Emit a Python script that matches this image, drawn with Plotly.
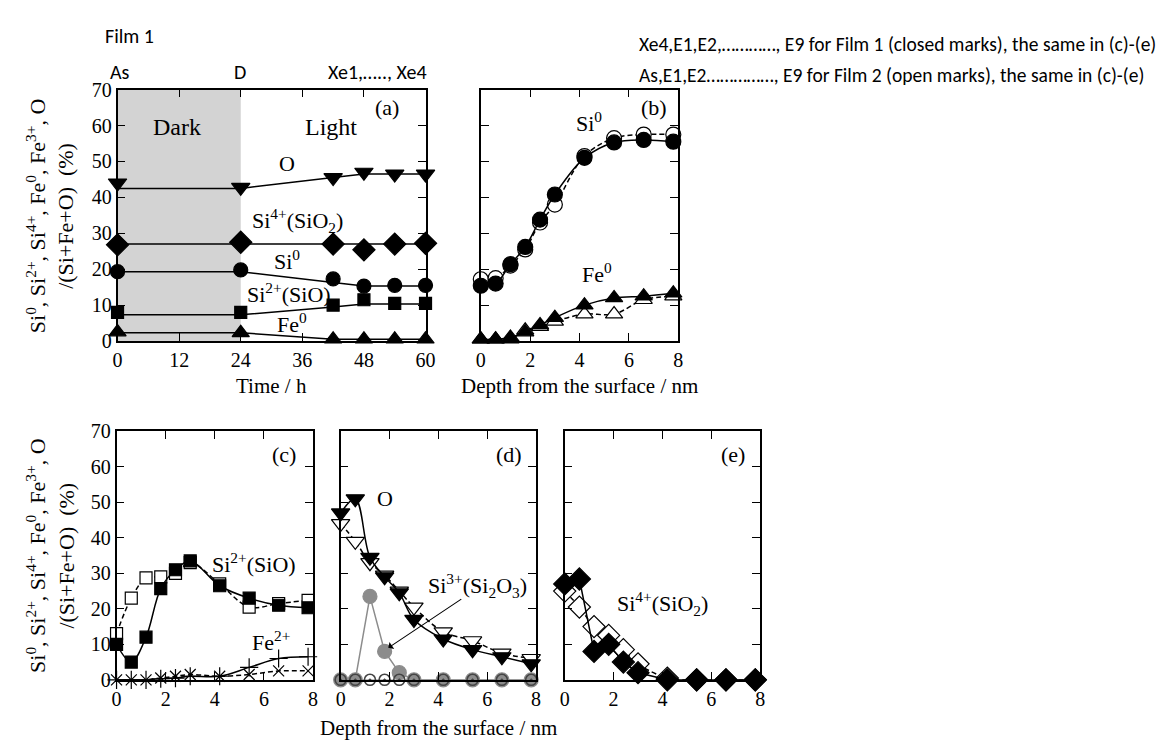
import plotly.graph_objects as go

# ---------------- data ----------------
# (a) composition versus time (Film 1)
time_h = [0, 24, 42, 48, 54, 60]
a_o = [44, 42.8, 45.5, 47, 46.5, 46.5]
a_si4 = [26.8, 27.5, 27, 25.4, 27, 27.2]
a_si0 = [19.3, 19.8, 17.3, 15.3, 15.5, 15.5]
a_si2 = [8, 8, 10, 11.5, 10.5, 10.5]
a_fe0 = [2.5, 2.3, 0.5, 0.5, 0.5, 0.5]
# trend lines in (a)
a_o_line = [42.5, 42.5, 45.5, 46.5, 46.5, 46.5]
a_si4_line = [27, 27, 27, 27, 27, 27]
a_si0_line = [19.3, 19.3, 16.3, 15.3, 15.3, 15.3]
a_si2_line = [7.3, 7.3, 9.5, 10.3, 10.3, 10.3]
a_fe0_line = [2.3, 2.3, 0.5, 0.5, 0.5, 0.5]

# depth profiles (b)-(e): Film 1 = closed marks, Film 2 = open marks
depth_nm = [0, 0.6, 1.2, 1.8, 2.4, 3.0, 4.2, 5.4, 6.6, 7.8]
b_si0_f1 = [15.4, 16, 21.4, 26.2, 33.8, 40.8, 51, 55.3, 56, 55.5]
b_si0_f2 = [17.2, 17.5, 21, 25.5, 33, 38, 51.5, 56.5, 57.5, 57.5]
b_fe0_f1 = [0.5, 0.5, 1, 2.5, 4.5, 6.5, 10, 12, 12.5, 13.3]
b_fe0_f2 = [0.5, 0.5, 0.5, 3, 4, 5.5, 7.5, 7.5, 11.5, 12.5]

c_si2_f1 = [10, 5, 12, 25.7, 31, 33.5, 26.5, 23, 21, 20.3]
c_si2_f2 = [13, 23, 28.7, 29, 30, 33, 27, 20.5, 21.5, 22.4]
c_fe2_f1 = [0, 0, 0, 0.3, 0.5, 1, 1, 3.5, 6, 6.5]
c_fe2_f2 = [0, 0, 0, 0.5, 1, 1.5, 1, 1.5, 2.5, 2.5]

d_o_f1 = [47, 51, 34.5, 29, 24.5, 17, 11.5, 8.5, 6.5, 4.5]
d_o_f2 = [44, 39, 33, 29.5, 25, 20.5, 13.5, 11, 7.5, 6]
d_si3_f1 = [0, 0, 23.5, 8, 2, 0, 0, 0, 0, 0]
d_si3_f2 = [0, 0, 0, 0, 0, 0, 0, 0, 0, 0]

e_si4_f1 = [27, 28.4, 8, 10, 5, 2, 0, 0, 0, 0]
e_si4_f2 = [25, 20.5, 15, 12.5, 8.5, 4.5, 0.5, 0, 0, 0]

# ---------------- layout helpers ----------------
W, H = 1168, 751
SERIF = "Liberation Serif"
SANS = "Carlito, Lato, sans-serif"
DASH = "5px,3px"


def px(x):
    return x / W


def py(y):
    return 1 - y / H


def axis_style(rng, dtick, domain, anchor, labels=True):
    return dict(
        domain=domain, anchor=anchor, range=rng, dtick=dtick, tick0=0,
        showline=True, linecolor="black", linewidth=1.5, mirror="ticks",
        ticks="inside", ticklen=8, tickwidth=1.3, tickcolor="black",
        showgrid=False, zeroline=False, showticklabels=labels,
        tickfont=dict(family=SERIF, size=20, color="black"),
    )


fig = go.Figure()


def add(xs, ys, ax, symbol=None, fill="black", size=13, dash="solid",
        shape="linear", lcolor="black", mcolor="black", mode="lines+markers",
        lw=1.5, mlw=1.2):
    fig.add_trace(go.Scatter(
        x=xs, y=ys, xaxis="x" + ax, yaxis="y" + ax, mode=mode,
        line=dict(color=lcolor, width=lw, dash=dash, shape=shape),
        marker=dict(symbol=symbol or "circle", size=size, color=fill,
                    line=dict(color=mcolor, width=mlw)),
        cliponaxis=False, showlegend=False, hoverinfo="skip",
    ))


# (a) -- trend lines then marks
for line in (a_o_line, a_si4_line, a_si0_line, a_si2_line, a_fe0_line):
    add(time_h, line, "", mode="lines")
add(time_h, a_o, "", "triangle-down", size=16, mode="markers")
add(time_h, a_si4, "", "diamond", size=17, mode="markers")
add(time_h, a_si0, "", "circle", size=14, mode="markers")
add(time_h, a_si2, "", "square", size=12, mode="markers")
add(time_h, a_fe0, "", "triangle-up", size=15, mode="markers")

# (b)
add(depth_nm, b_si0_f2, "2", "circle", fill="white", size=15, dash=DASH, shape="spline")
add(depth_nm, b_si0_f1, "2", "circle", size=15, shape="spline")
add(depth_nm, b_fe0_f2, "2", "triangle-up", fill="white", size=15, dash=DASH, shape="spline")
add(depth_nm, b_fe0_f1, "2", "triangle-up", size=15, shape="spline")

# (c)
add(depth_nm, c_si2_f2, "3", "square", fill="white", size=12, dash=DASH, shape="spline")
add(depth_nm, c_si2_f1, "3", "square", size=12, shape="spline")
add(depth_nm, c_fe2_f2, "3", "x-thin-open", size=11, dash=DASH, shape="spline")
add(depth_nm, c_fe2_f1, "3", "cross-thin-open", size=13, shape="spline")

# (d)
add(depth_nm, d_o_f2, "4", "triangle-down", fill="white", size=16, dash=DASH, shape="spline")
add(depth_nm, d_o_f1, "4", "triangle-down", size=16, shape="spline")
add(depth_nm, d_si3_f1, "4", "circle", fill="#8c8c8c", size=14,
    lcolor="#8c8c8c", mcolor="#8c8c8c")
add(depth_nm, d_si3_f2, "4", "circle-open-dot", fill="#444444", size=11,
    lcolor="#8c8c8c", mcolor="#444444", lw=1, mlw=1.6)

# (e)
add(depth_nm, e_si4_f2, "5", "diamond", fill="white", size=17, dash=DASH, shape="spline")
add(depth_nm, e_si4_f1, "5", "diamond", size=17)

# ---------------- axes ----------------
top_dom = [py(340), py(81)]
bot_dom = [py(689), py(433)]
fig.update_layout(
    width=W, height=H, margin=dict(l=0, r=0, t=0, b=0),
    plot_bgcolor="rgba(0,0,0,0)", paper_bgcolor="white",
    xaxis=axis_style([0, 60], 12, [px(114), px(426)], "y"),
    yaxis=axis_style([0, 70], 10, top_dom, "x"),
    xaxis2=axis_style([0, 8], 2, [px(482), px(682)], "y2"),
    yaxis2=axis_style([0, 70], 10, top_dom, "x2", labels=False),
    xaxis3=axis_style([0, 8], 2, [px(113), px(312)], "y3"),
    yaxis3=axis_style([0, 70], 10, bot_dom, "x3"),
    xaxis4=axis_style([0, 8], 2, [px(340), px(538)], "y4"),
    yaxis4=axis_style([0, 70], 10, bot_dom, "x4", labels=False),
    xaxis5=axis_style([0, 8], 2, [px(567), px(765)], "y5"),
    yaxis5=axis_style([0, 70], 10, bot_dom, "x5", labels=False),
)

# dark period shading in (a)
fig.add_shape(type="rect", xref="x", yref="y domain", x0=0, x1=24, y0=0, y1=1,
              fillcolor="#d3d3d3", line=dict(width=0), layer="below")

ann = []


def txt(x, y, text, xref, yref, size=22, family=SERIF, xanchor="center", **kw):
    ann.append(dict(x=x, y=y, xref=xref, yref=yref, text=text, showarrow=False,
                    xanchor=xanchor, yanchor="middle",
                    font=dict(family=family, size=size, color="black"), **kw))


# labels inside (a)
txt(11.5, 59.5, "Dark", "x", "y", size=24)
txt(41.5, 59.5, "Light", "x", "y", size=24)
txt(33, 49.5, "O", "x", "y")
txt(35, 33.5, "Si<sup>4+</sup>(SiO<sub>2</sub>)", "x", "y")
txt(33, 22.5, "Si<sup>0</sup>", "x", "y")
txt(33.5, 13.5, "Si<sup>2+</sup>(SiO)", "x", "y")
txt(34, 5, "Fe<sup>0</sup>", "x", "y")
txt(52.5, 65, "(a)", "x", "y")
# labels inside (b)
txt(4.4, 61, "Si<sup>0</sup>", "x2", "y2")
txt(4.7, 19, "Fe<sup>0</sup>", "x2", "y2")
txt(7.0, 65, "(b)", "x2", "y2")
# labels inside (c)
txt(5.6, 33, "Si<sup>2+</sup>(SiO)", "x3", "y3")
txt(6.3, 11, "Fe<sup>2+</sup>", "x3", "y3")
txt(6.8, 63.5, "(c)", "x3", "y3")
# labels inside (d)
txt(1.8, 51, "O", "x4", "y4")
txt(5.6, 26.5, "Si<sup>3+</sup>(Si<sub>2</sub>O<sub>3</sub>)", "x4", "y4")
txt(6.9, 63.5, "(d)", "x4", "y4")
ann.append(dict(x=1.95, y=9, ax=5.0, ay=23, xref="x4", yref="y4",
                axref="x4", ayref="y4", text="", showarrow=True,
                arrowhead=1, arrowsize=1.3, arrowwidth=1.1, arrowcolor="black"))
# labels inside (e)
txt(4.0, 21.5, "Si<sup>4+</sup>(SiO<sub>2</sub>)", "x5", "y5")
txt(6.9, 63.5, "(e)", "x5", "y5")

# axis titles
ytitle = ("Si<sup>0</sup>, Si<sup>2+</sup>, Si<sup>4+</sup>, Fe<sup>0</sup>, "
          "Fe<sup>3+</sup>, O<br>/(Si+Fe+O)  (%)")
txt(px(46), py(211), ytitle, "paper", "paper", size=22, textangle=-90)
txt(px(46), py(561), ytitle, "paper", "paper", size=22, textangle=-90)
txt(px(270), py(386), "Time / h", "paper", "paper", size=21)
txt(px(582), py(386), "Depth from the surface / nm", "paper", "paper", size=21)
txt(px(439), py(739), "Depth from the surface / nm", "paper", "paper", size=21)

# sans-serif headers
txt(px(126), py(26), "Film 1", "paper", "paper", size=20, family=SANS)
txt(px(116), py(63), "As", "paper", "paper", size=20, family=SANS)
txt(px(238), py(63), "D", "paper", "paper", size=20, family=SANS)
txt(px(377), py(63), "Xe1,….., Xe4", "paper", "paper", size=20, family=SANS)
txt(px(640), py(34),
    "Xe4,E1,E2,…………, E9 for Film 1 (closed marks), the same in (c)-(e)",
    "paper", "paper", size=19.5, family=SANS, xanchor="left")
txt(px(640), py(66),
    "As,E1,E2……………, E9 for Film 2 (open marks), the same in (c)-(e)",
    "paper", "paper", size=19.5, family=SANS, xanchor="left")

fig.update_layout(annotations=ann)
fig.write_html("out.html")
